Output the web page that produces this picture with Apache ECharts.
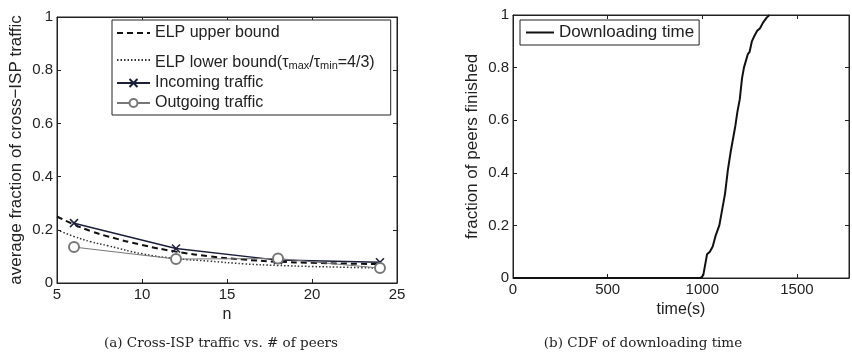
<!DOCTYPE html>
<html><head><meta charset="utf-8">
<script src="https://cdn.jsdelivr.net/npm/echarts@6/dist/echarts.min.js"></script>
<style>html,body{margin:0;padding:0;background:#fff}#c{width:852px;height:355px}</style>
</head><body><div id="c"></div>
<script>
// ---- data ----
const nPeers = [6, 12, 18, 24];
const incoming = [0.225, 0.13, 0.086, 0.078];
const outgoing = [0.135, 0.09, 0.092, 0.056];
const boundN = [5, 6, 7, 8, 10, 12, 14, 16, 18, 20, 22, 24];
const upperBound = [0.25, 0.22, 0.195, 0.175, 0.143, 0.118, 0.1, 0.088, 0.08, 0.076, 0.073, 0.071];
const lowerBound = [0.2, 0.175, 0.155, 0.14, 0.11, 0.092, 0.082, 0.072, 0.066, 0.062, 0.059, 0.056];
const cdfTime = [0, 990, 1005, 1025, 1040, 1055, 1070, 1090, 1105, 1120, 1135, 1150, 1160, 1175, 1185, 1198, 1210, 1220, 1240, 1250, 1262, 1275, 1290, 1305, 1320, 1340, 1355];
const cdfFrac = [0, 0, 0.01, 0.09, 0.1, 0.12, 0.16, 0.2, 0.26, 0.32, 0.41, 0.48, 0.52, 0.58, 0.63, 0.68, 0.76, 0.8, 0.85, 0.86, 0.9, 0.92, 0.94, 0.95, 0.97, 0.99, 1];

const zip = (a, b) => a.map((v, i) => [v, b[i]]);
const FONT = 'Liberation Sans';
const INK = '#222';
const tickFmt = v => (Math.abs(v) < 1e-9 ? '0' : (Math.abs(v - 1) < 1e-9 ? '1' : String(+v.toFixed(2))));

function valAxis(o) {
  return Object.assign({
    type: 'value',
    axisLine: { show: true, onZero: false, lineStyle: { color: INK, width: 1 } },
    axisTick: { show: true, inside: true, length: 4, lineStyle: { color: INK } },
    splitLine: { show: false },
    axisLabel: { color: INK, fontFamily: FONT, fontSize: 15, formatter: tickFmt, margin: 4 },
    nameTextStyle: { color: INK, fontFamily: FONT, fontSize: 16 }
  }, o);
}
function mirrorAxis(o) {
  return Object.assign(valAxis(o), { axisLabel: { show: false } });
}

const crossPath = 'path://M0,0L10,10M10,0L0,10';
const noMarker = { opacity: 0 };

const option = {
  animation: false,
  backgroundColor: '#fff',
  title: [
    { text: '(a) Cross-ISP traffic vs. # of peers', left: 216, top: 331, textAlign: 'center',
      textStyle: { fontFamily: 'DejaVu Serif', fontSize: 13.5, fontWeight: 'normal', color: INK } },
    { text: '(b) CDF of downloading time', left: 638, top: 331, textAlign: 'center',
      textStyle: { fontFamily: 'DejaVu Serif', fontSize: 13.5, fontWeight: 'normal', color: INK } }
  ],
  grid: [
    { left: 57, top: 17, width: 340, height: 266, show: true, borderColor: INK, borderWidth: 1 },
    { left: 513, top: 15, width: 336, height: 263, show: true, borderColor: INK, borderWidth: 1 }
  ],
  legend: [
    {
      orient: 'vertical', left: 112, top: 20, itemGap: 4, itemWidth: 33, itemHeight: 10,
      borderColor: INK, borderWidth: 1, padding: [5, 16, 4, 4], backgroundColor: '#fff',
      data: [
        { name: 'ELP upper bound', itemStyle: noMarker },
        { name: 'ELP lower bound', itemStyle: noMarker },
        'Incoming traffic', 'Outgoing traffic'
      ],
      formatter: name => name === 'ELP lower bound'
        ? '{m|ELP lower bound(τ}{s|max}{m|/τ}{s|min}{m|=4/3)}' : '{n|' + name + '}',
      textStyle: {
        fontFamily: FONT, fontSize: 16, color: INK,
        rich: {
          n: { fontFamily: FONT, fontSize: 16, color: INK, lineHeight: 20 },
          m: { fontFamily: FONT, fontSize: 16, color: INK, lineHeight: 22, verticalAlign: 'bottom', padding: [10, 0, 0, 0] },
          s: { fontFamily: FONT, fontSize: 11, color: INK, lineHeight: 11, verticalAlign: 'bottom' }
        }
      }
    },
    {
      orient: 'vertical', left: 520, top: 20, itemWidth: 28, itemHeight: 10,
      borderColor: INK, borderWidth: 1, padding: [4, 5, 4, 5], backgroundColor: '#fff',
      data: [{ name: 'Downloading time', itemStyle: noMarker }],
      textStyle: { fontFamily: FONT, fontSize: 17, color: INK }
    }
  ],
  xAxis: [
    valAxis({ gridIndex: 0, min: 5, max: 25, interval: 5, name: 'n', nameLocation: 'middle', nameGap: 22 }),
    mirrorAxis({ gridIndex: 0, min: 5, max: 25, interval: 5, position: 'top' }),
    valAxis({ gridIndex: 1, min: 0, max: 1775, interval: 500, name: 'time(s)', nameLocation: 'middle', nameGap: 22,
      axisLabel: { color: INK, fontFamily: FONT, fontSize: 15, margin: 4, showMaxLabel: false, formatter: tickFmt } }),
    mirrorAxis({ gridIndex: 1, min: 0, max: 1775, interval: 500, position: 'top' })
  ],
  yAxis: [
    valAxis({ gridIndex: 0, min: 0, max: 1, interval: 0.2, name: 'average fraction of cross\u2212ISP traffic', nameLocation: 'middle', nameGap: 32,
      nameTextStyle: { color: INK, fontFamily: FONT, fontSize: 17 } }),
    mirrorAxis({ gridIndex: 0, min: 0, max: 1, interval: 0.2, position: 'right' }),
    valAxis({ gridIndex: 1, min: 0, max: 1, interval: 0.2, name: 'fraction of peers finished', nameLocation: 'middle', nameGap: 32,
      nameTextStyle: { color: INK, fontFamily: FONT, fontSize: 17 } }),
    mirrorAxis({ gridIndex: 1, min: 0, max: 1, interval: 0.2, position: 'right' })
  ],
  series: [
    { name: 'ELP upper bound', type: 'line', xAxisIndex: 0, yAxisIndex: 0, smooth: true, symbol: 'none',
      data: zip(boundN, upperBound), lineStyle: { color: '#111', width: 2, type: [6, 4] }, itemStyle: { color: '#111' } },
    { name: 'ELP lower bound', type: 'line', xAxisIndex: 0, yAxisIndex: 0, smooth: true, symbol: 'none',
      data: zip(boundN, lowerBound), lineStyle: { color: '#333', width: 1.5, type: [1.5, 2] }, itemStyle: { color: '#333' } },
    { name: 'Incoming traffic', type: 'line', xAxisIndex: 0, yAxisIndex: 0, symbol: crossPath, symbolSize: 8,
      data: zip(nPeers, incoming), lineStyle: { color: '#1c1f3a', width: 1.5 },
      itemStyle: { color: 'none', borderColor: '#1c1f3a', borderWidth: 1.5 } },
    { name: 'Outgoing traffic', type: 'line', xAxisIndex: 0, yAxisIndex: 0, symbol: 'emptyCircle', symbolSize: 10,
      data: zip(nPeers, outgoing), lineStyle: { color: '#777', width: 1 },
      itemStyle: { color: '#777', borderColor: '#777', borderWidth: 1.3 } },
    { name: 'Downloading time', type: 'line', xAxisIndex: 2, yAxisIndex: 2, symbol: 'none',
      data: zip(cdfTime, cdfFrac), lineStyle: { color: '#111', width: 2 }, itemStyle: { color: '#111' } }
  ]
};
const chart = echarts.init(document.getElementById('c'), null, { renderer: 'canvas' });
chart.setOption(option);
</script></body></html>
